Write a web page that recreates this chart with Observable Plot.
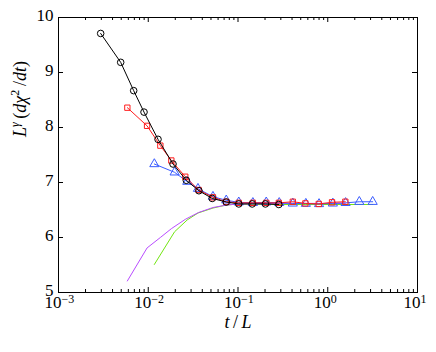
<!DOCTYPE html>
<html>
<head>
<meta charset="utf-8">
<script src="https://cdn.jsdelivr.net/npm/d3@7"></script>
<script src="https://cdn.jsdelivr.net/npm/@observablehq/plot@0.6"></script>
<style>
  html, body { margin: 0; padding: 0; background: #fff; }
  #chart { width: 436px; height: 352px; }
</style>
</head>
<body>
<div id="chart"></div>
<script>
// ---- data ----
const blackT = [0.00295, 0.00493, 0.00688, 0.00897, 0.01285, 0.01888, 0.02655, 0.0367, 0.0516, 0.074, 0.102, 0.144, 0.202, 0.285];
const blackY = [9.71, 9.185, 8.67, 8.28, 7.785, 7.336, 7.04, 6.85, 6.71, 6.645, 6.61, 6.61, 6.61, 6.60];

const redT = [0.00585, 0.0097, 0.01364, 0.01808, 0.02586, 0.0364, 0.0526, 0.074, 0.102, 0.1465, 0.2065, 0.285, 0.408, 0.563, 0.794, 1.116, 1.57];
const redY = [8.36, 8.03, 7.67, 7.40, 7.105, 6.864, 6.73, 6.65, 6.63, 6.63, 6.63, 6.63, 6.65, 6.62, 6.61, 6.64, 6.65];

const blueT = [0.01169, 0.01967, 0.0272, 0.0358, 0.0526, 0.074, 0.102, 0.1465, 0.2065, 0.288, 0.408, 0.57, 0.80, 1.14, 1.58, 2.247, 3.167];
const blueY = [7.336, 7.185, 7.015, 6.887, 6.742, 6.676, 6.64, 6.63, 6.64, 6.63, 6.62, 6.615, 6.61, 6.62, 6.63, 6.65, 6.65];

const greenT = [0.01169, 0.01967, 0.0272, 0.0358, 0.0526, 0.074, 0.102, 0.1465, 0.2065, 0.288, 0.408, 0.57, 0.80, 1.14, 1.58, 2.247, 3.167];
const greenY = [5.51, 6.105, 6.32, 6.445, 6.535, 6.59, 6.61, 6.61, 6.605, 6.60, 6.60, 6.60, 6.60, 6.60, 6.60, 6.60, 6.60];

const purpleT = [0.00585, 0.0097, 0.01364, 0.01808, 0.02586, 0.0364, 0.0526, 0.074, 0.102, 0.1465, 0.2065, 0.285, 0.408, 0.563, 0.794, 1.116, 1.57];
const purpleY = [5.21, 5.81, 6.0, 6.16, 6.33, 6.455, 6.545, 6.59, 6.61, 6.615, 6.62, 6.62, 6.62, 6.62, 6.62, 6.62, 6.62];

const xMajor = [1e-3, 1e-2, 1e-1, 1, 10];
const xExponents = ["\u22123", "\u22122", "\u22121", "0", "1"];
const xMinor = [];
for (let k = -3; k < 1; k++) for (let m = 2; m <= 9; m++) xMinor.push(m * Math.pow(10, k));
const yTicks = [5, 6, 7, 8, 9, 10];
const xLabel = "t/L";
const yLabel = "L\u03b3 (d\u03c72/dt)";

// ---- layout ----
const W = 436, H = 352;
const mL = 58, mR = 19, mT = 17, mB = 60;
const innerW = W - mL - mR, innerH = H - mT - mB;
const FONT = "'Liberation Serif', 'Times New Roman', serif";

const zip = (T, Y) => T.map((t, i) => ({t, v: Y[i]}));
const black = zip(blackT, blackY);
const red = zip(redT, redY);
const blue = zip(blueT, blueY);
const green = zip(greenT, greenY);
const purple = zip(purpleT, purpleY);

const C = {black: "#000000", red: "#ff1c1c", blue: "#3a5cff", green: "#72e612", purple: "#b94cff"};

const xTickIdx = xMajor.map((d, i) => ({x: d, e: xExponents[i]}));

const chart = Plot.plot({
  width: W, height: H,
  marginLeft: mL, marginRight: mR, marginTop: mT, marginBottom: mB,
  x: {type: "log", domain: [1e-3, 10], axis: null},
  y: {domain: [5, 10], axis: null},
  style: {fontFamily: FONT, background: "white", color: "black", overflow: "visible"},
  marks: [
    // data
    Plot.line(green, {x: "t", y: "v", stroke: C.green, strokeWidth: 1}),
    Plot.line(purple, {x: "t", y: "v", stroke: C.purple, strokeWidth: 1}),
    Plot.line(blue, {x: "t", y: "v", stroke: C.blue, strokeWidth: 1}),
    Plot.dot(blue, {x: "t", y: "v", symbol: "triangle", r: 3.4, stroke: C.blue, fill: "none", strokeWidth: 1}),
    Plot.line(red, {x: "t", y: "v", stroke: C.red, strokeWidth: 1}),
    Plot.dot(red, {x: "t", y: "v", symbol: "square", r: 3.0, stroke: C.red, fill: "none", strokeWidth: 1}),
    Plot.line(black, {x: "t", y: "v", stroke: C.black, strokeWidth: 1}),
    Plot.dot(black, {x: "t", y: "v", symbol: "circle", r: 3.3, stroke: C.black, fill: "none", strokeWidth: 1}),
    // frame
    Plot.frame({stroke: "black", strokeWidth: 1}),
    // inward ticks
    Plot.tickX(xMajor, {x: d => d, insetTop: innerH - 5, stroke: "black"}),
    Plot.tickX(xMajor, {x: d => d, insetBottom: innerH - 5, stroke: "black"}),
    Plot.tickX(xMinor, {x: d => d, insetTop: innerH - 3, stroke: "black"}),
    Plot.tickX(xMinor, {x: d => d, insetBottom: innerH - 3, stroke: "black"}),
    Plot.tickY(yTicks, {y: d => d, insetRight: innerW - 5, stroke: "black"}),
    Plot.tickY(yTicks, {y: d => d, insetLeft: innerW - 5, stroke: "black"}),
    // tick labels
    Plot.text(yTicks, {y: d => d, frameAnchor: "left", dx: -5, dy: -2, textAnchor: "end", text: d => String(d), fontSize: 17}),
    Plot.text(xTickIdx, {x: "x", frameAnchor: "bottom", dy: 15.5, dx: 3, textAnchor: "end", text: () => "10", fontSize: 17}),
    Plot.text(xTickIdx, {x: "x", frameAnchor: "bottom", dy: 10, dx: 3, textAnchor: "start", text: "e", fontSize: 12}),
    // axis labels
    Plot.text([xLabel], {frameAnchor: "bottom", dy: 35, text: d => d, fontSize: 18}),
    Plot.text([yLabel], {frameAnchor: "left", dx: -38, dy: -18, rotate: -90, text: d => d, fontSize: 18})
  ]
});

document.getElementById("chart").appendChild(chart);

// rich formatting of the axis labels (superscripts / italics)
const byText = s => d3.select(chart).selectAll("text").filter(function () { return this.textContent === s; });
byText(xLabel).html(
  '<tspan font-style="italic">t</tspan><tspan>\u2009/\u2009</tspan><tspan font-style="italic">L</tspan>'
);
byText(yLabel).html(
  '<tspan font-style="italic">L</tspan>' +
  '<tspan dy="-7" font-size="12" font-style="italic">\u03b3</tspan>' +
  '<tspan dy="7">\u2009(</tspan>' +
  '<tspan font-style="italic">d\u03c7</tspan>' +
  '<tspan dy="-7" font-size="12">2</tspan>' +
  '<tspan dy="7">\u2009/</tspan>' +
  '<tspan font-style="italic">dt</tspan>' +
  '<tspan>)</tspan>'
);
</script>
</body>
</html>
